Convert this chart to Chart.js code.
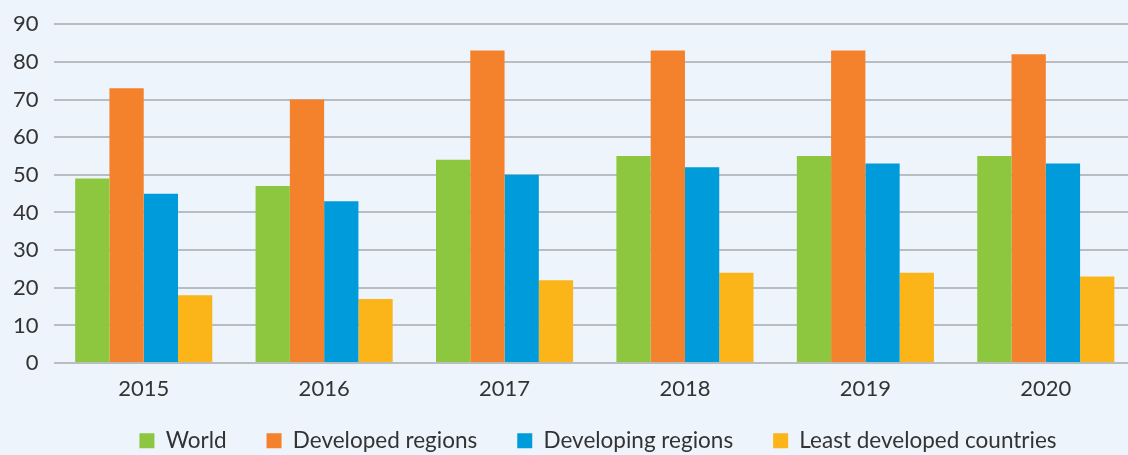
<!DOCTYPE html>
<html>
<head>
<meta charset="utf-8">
<script src="https://cdn.jsdelivr.net/npm/chart.js@4.4.0/dist/chart.umd.min.js"></script>
<style>
    html, body {margin: 0; padding: 0; background: #edf4fb; overflow: hidden;}
    #wrap {width: 1136px; height: 459px; margin-top: -4px; position: relative;}
</style>
</head>
<body>
<div id="wrap"><canvas id="chart"></canvas></div>
<script>
const years = ['2015', '2016', '2017', '2018', '2019', '2020'];
const world = [49, 47, 54, 55, 55, 55];
const developed = [73, 70, 83, 83, 83, 82];
const developing = [45, 43, 50, 52, 53, 53];
const leastDeveloped = [18, 17, 22, 24, 24, 23];

const font = 'Lato, "Open Sans", sans-serif';
const textColor = '#333333';
const gridColor = '#b9bdc2';

// the reference legend is not centred on the canvas and sits closer to the axis
const legendShift = {
    id: 'legendShift',
    afterLayout(chart) {
        const legend = chart.legend;
        legend.left += 31;
        legend.right += 31;
        legend.top -= 26;
        legend.bottom -= 26;
    }
};

new Chart(document.getElementById('chart'), {
    type: 'bar',
    data: {
        labels: years,
        datasets: [
            {label: 'World', data: world, backgroundColor: '#8dc63f'},
            {label: 'Developed regions', data: developed, backgroundColor: '#f4812b'},
            {label: 'Developing regions', data: developing, backgroundColor: '#009bdb'},
            {label: 'Least developed countries', data: leastDeveloped, backgroundColor: '#fbb518'}
        ]
    },
    options: {
        responsive: true,
        maintainAspectRatio: false,
        animation: false,
        categoryPercentage: 0.76,
        barPercentage: 1.0,
        layout: {padding: {top: 4, left: -2, right: 0, bottom: -33}},
        scales: {
            x: {
                grid: {display: false, drawTicks: false},
                border: {display: false},
                ticks: {color: textColor, font: {family: font, size: 22}, padding: 13}
            },
            y: {
                min: 0,
                max: 90,
                ticks: {stepSize: 10, color: textColor, font: {family: font, size: 22}, padding: 15},
                grid: {color: gridColor, lineWidth: 2, drawTicks: false},
                border: {display: false}
            }
        },
        plugins: {
            tooltip: {enabled: false},
            legend: {
                position: 'bottom',
                labels: {
                    boxWidth: 15,
                    boxHeight: 15,
                    padding: 40,
                    color: textColor,
                    font: {family: font, size: 22.5}
                }
            }
        }
    },
    plugins: [legendShift]
});
</script>
</body>
</html>
